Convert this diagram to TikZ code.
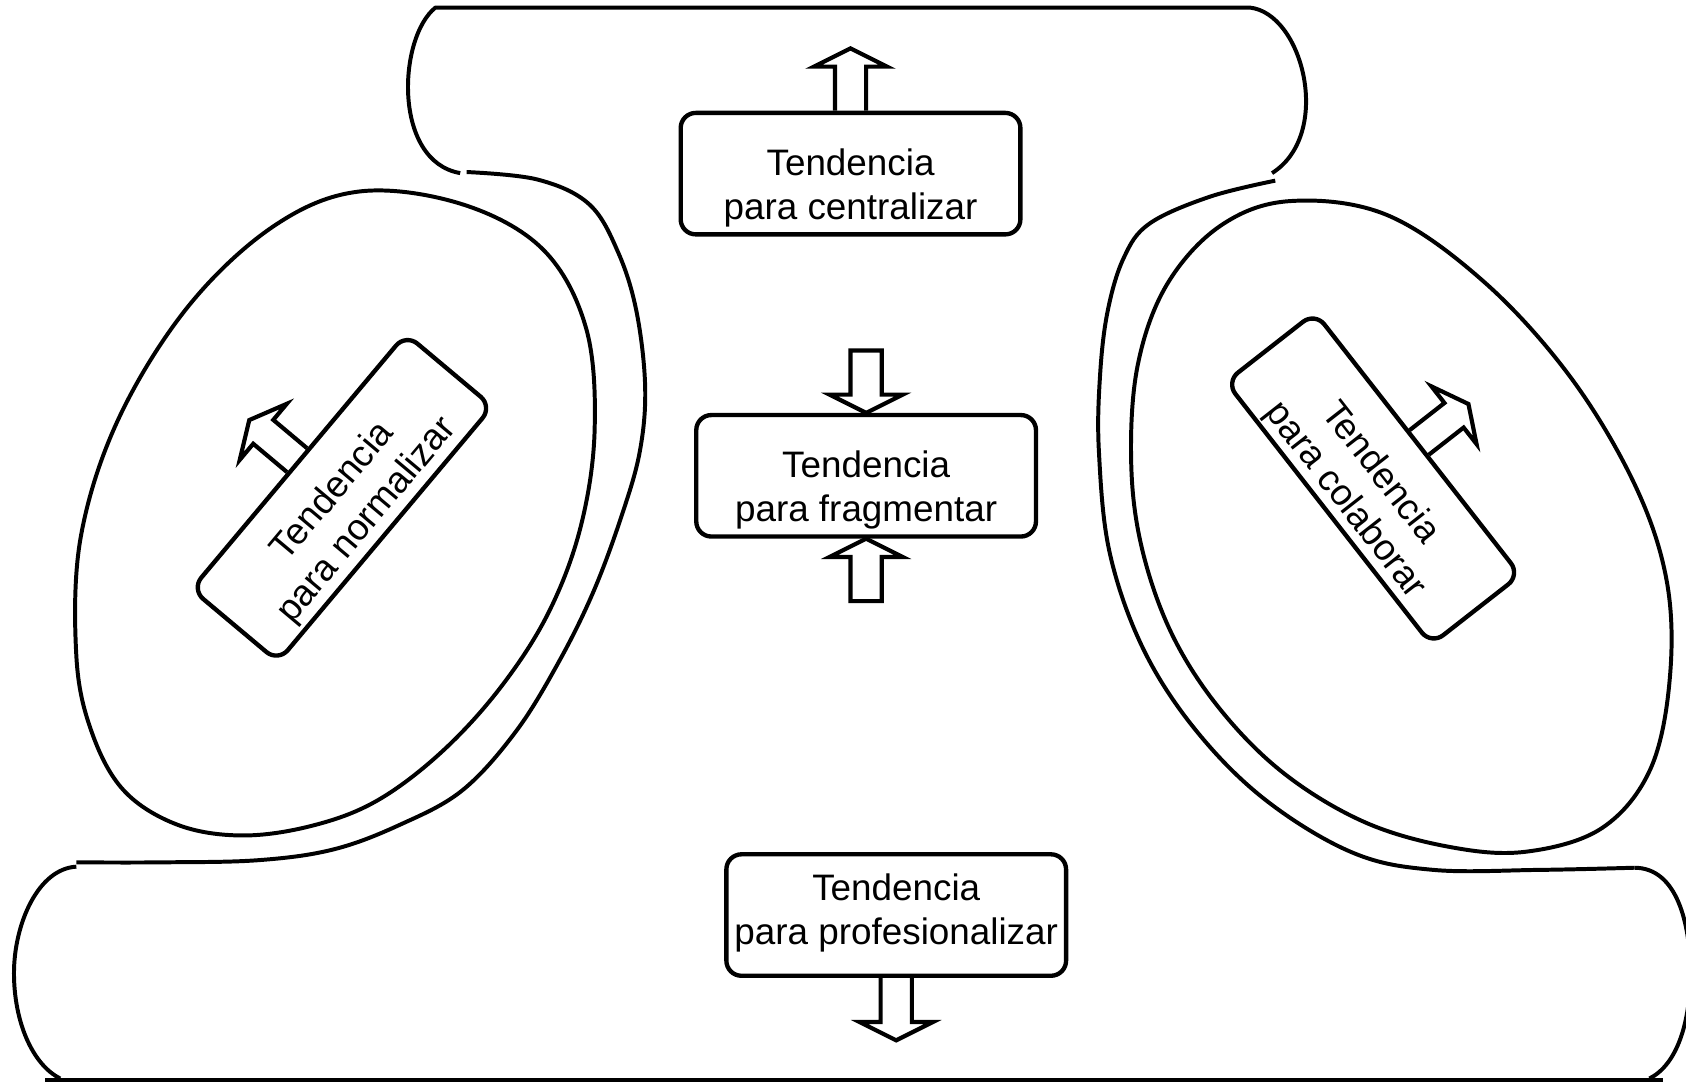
\documentclass[tikz,border=0pt]{standalone}
\usepackage{fontspec}
\setmainfont{Liberation Sans}
\newcommand{\myoutarrow}[2]{%
  \begin{scope}[shift={(#1)}, rotate=#2, x=0.02cm, y=0.02cm]
    \draw[barrow] (0,-14.5) -- (41,-14.5) -- (41,-34) -- (58,0) -- (41,34) -- (41,14.5) -- (0,14.5);
  \end{scope}}
\newcommand{\myinarrow}[2]{%
  \begin{scope}[shift={(#1)}, rotate=#2, x=0.02cm, y=0.02cm]
    \draw[barrow] (-58,-14.5) -- (-17,-14.5) -- (-17,-34) -- (0,0) -- (-17,34) -- (-17,14.5) -- (-58,14.5) -- cycle;
  \end{scope}}
\begin{document}
\begin{tikzpicture}[x=0.02cm,y=-0.02cm,
  line join=round,
  tbox/.style={draw, line width=2.3pt, rounded corners=8pt,
    minimum width=6.32cm, minimum height=2.26cm, inner sep=0pt},
  rbox/.style={tbox, minimum width=6.2cm, minimum height=2.1cm},
  txt/.style={align=center, inner sep=0pt, font=\fontsize{19.5}{23.4}\selectfont},
  curve/.style={draw, line width=2.1pt},
  barrow/.style={draw, line width=2.2pt, line join=miter}]
\useasboundingbox (0,0) rectangle (1568,1006);

% top shape
\draw[curve] (1183,161) .. controls (1240,125) and (1212,12) .. (1162,7)
  -- (405,7) .. controls (370,35) and (365,150) .. (428,161);

% left outer curve
\draw[curve] plot[smooth, tension=0.6] coordinates {(434,160) (500,167) (548,190) (575,235) (592,290) (600,360) (595,420) (578,480) (552,550) (520,615) (480,680) (430,735) (372,767) (310,790) (240,800) (150,802) (71,802)};

% right outer curve
\draw[curve] plot[smooth, tension=0.6] coordinates {(1186,168) (1125,183) (1069,208) (1045,240) (1030,290) (1023,350) (1022,420) (1032,514) (1063,603) (1112,679) (1177,744) (1258,793) (1333,809) (1432,809) (1520,807)};

% bottom shape
\draw[curve] (71,806) .. controls (35,808) and (13,860) .. (13,905)
  .. controls (13,950) and (30,990) .. (56,1003);
\draw[curve] (42,1004) -- (1547,1004);
\draw[curve] (1520,807) .. controls (1560,807) and (1572,860) .. (1572,905)
  .. controls (1572,950) and (1560,990) .. (1534,1003);

% left ellipse
\draw[curve] plot[smooth cycle, tension=0.6] coordinates {(335,178) (430,190) (505,232) (545,305) (553,400) (540,490) (510,570) (465,640) (410,700) (350,745) (290,768) (225,777) (165,767) (115,735) (85,680) (71,610) (75,500) (110,390) (175,285) (255,210)};

% right ellipse
\draw[curve] plot[smooth cycle, tension=0.6] coordinates {(1200,187) (1290,200) (1380,262) (1460,350) (1520,450) (1550,540) (1553,630) (1535,715) (1490,770) (1420,792) (1350,788) (1270,765) (1195,720) (1135,660) (1090,590) (1062,510) (1052,430) (1058,340) (1085,265) (1135,210)};

% boxes
\node[tbox] (cent) at (791,161.5) {};
\node[txt] (centt) at (791,174.5) {Tendencia\\para centralizar};
\node[tbox] (frag) at (805.5,442.5) {};
\node[txt] (fragt) at (805.5,456) {Tendencia\\para fragmentar};
\node[tbox] (prof) at (833.5,851) {};
\node[txt] (proft) at (833.5,849) {Tendencia\\para profesionalizar};
\node[rbox, rotate=50] (norm) at (318,463) {};
\node[txt, rotate=50] (normt) at (326,471) {Tendencia\\para normalizar};
\node[rbox, rotate=-52] (cola) at (1277,445) {};
\node[txt, rotate=-52] (colat) at (1267,453) {Tendencia\\para colaborar};

% block arrows
\myoutarrow{cent.north}{90}
\myoutarrow{prof.south}{-90}
\myinarrow{frag.north}{-90}
\myinarrow{frag.south}{90}
\myoutarrow{norm.north}{140}
\myoutarrow{cola.north}{38}
\end{tikzpicture}
\end{document}
